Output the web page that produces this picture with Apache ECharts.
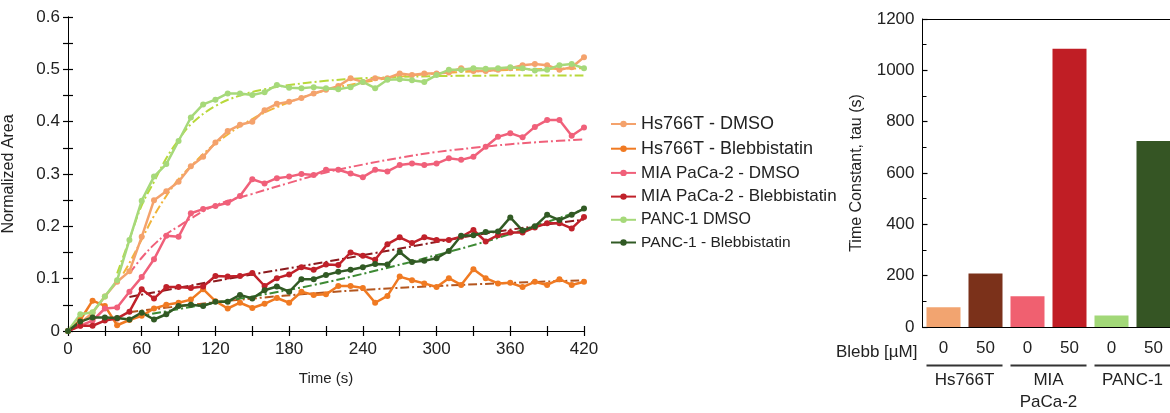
<!DOCTYPE html>
<html><head><meta charset="utf-8">
<script src="https://cdn.jsdelivr.net/npm/echarts@6/dist/echarts.min.js"></script>
<style>html,body{margin:0;padding:0;overflow:hidden;background:#fff}#c{width:1180px;height:413px}</style>
</head><body><div id="c"></div>
<script>
// ---------- DATA ----------
const times = [0,10,20,30,40,50,60,70,80,90,100,110,120,130,140,150,160,170,180,190,200,210,220,230,240,250,260,270,280,290,300,310,320,330,340,350,360,370,380,390,400,410,420];
const hsDmso = [0,0.015,0.035,0.066,0.094,0.114,0.18,0.25,0.267,0.285,0.315,0.333,0.36,0.382,0.394,0.4,0.422,0.434,0.438,0.445,0.454,0.461,0.468,0.483,0.476,0.483,0.483,0.492,0.489,0.492,0.492,0.494,0.502,0.497,0.497,0.499,0.502,0.508,0.51,0.508,0.499,0.504,0.523];
const hsBleb = [0,0.021,0.058,0.048,0.011,0.021,0.029,0.043,0.05,0.054,0.06,0.08,0.057,0.043,0.054,0.044,0.052,0.063,0.054,0.075,0.069,0.07,0.086,0.086,0.082,0.054,0.067,0.104,0.097,0.091,0.084,0.101,0.088,0.118,0.101,0.091,0.092,0.084,0.094,0.088,0.099,0.088,0.094];
const miaDmso = [0,0.01,0.02,0.043,0.045,0.075,0.103,0.137,0.182,0.18,0.225,0.233,0.239,0.245,0.258,0.29,0.282,0.292,0.295,0.3,0.298,0.308,0.308,0.301,0.294,0.308,0.305,0.317,0.32,0.317,0.32,0.33,0.327,0.333,0.352,0.371,0.378,0.37,0.39,0.403,0.403,0.373,0.389];
const miaBleb = [0,0.01,0.01,0.02,0.024,0.037,0.08,0.062,0.084,0.084,0.082,0.085,0.105,0.104,0.105,0.111,0.086,0.101,0.108,0.122,0.117,0.127,0.126,0.15,0.144,0.136,0.166,0.179,0.168,0.179,0.174,0.174,0.18,0.193,0.171,0.183,0.188,0.188,0.198,0.206,0.206,0.196,0.218];
const pancDmso = [0,0.032,0.036,0.066,0.097,0.174,0.249,0.295,0.319,0.363,0.408,0.433,0.442,0.454,0.454,0.451,0.456,0.47,0.465,0.464,0.466,0.464,0.462,0.466,0.476,0.464,0.48,0.481,0.479,0.476,0.489,0.499,0.499,0.502,0.501,0.502,0.504,0.502,0.498,0.499,0.508,0.51,0.502];
const pancBleb = [0,0.018,0.026,0.026,0.025,0.022,0.035,0.022,0.032,0.048,0.05,0.048,0.056,0.056,0.069,0.062,0.078,0.085,0.075,0.099,0.099,0.107,0.113,0.117,0.122,0.128,0.127,0.151,0.132,0.134,0.139,0.153,0.182,0.183,0.189,0.19,0.217,0.192,0.2,0.222,0.212,0.222,0.234];

const fitHsDmso = [[45,0.11],[50,0.13],[60,0.175],[70,0.22],[80,0.258],[90,0.29],[100,0.315],[120,0.358],[150,0.405],[180,0.437],[210,0.46],[240,0.475],[270,0.486],[300,0.492],[360,0.499],[420,0.502]];
const fitHsBleb = [[50,0.036],[100,0.05],[150,0.062],[200,0.072],[250,0.08],[300,0.086],[350,0.091],[420,0.097]];
const fitMiaDmso = [[50,0.11],[60,0.14],[70,0.165],[80,0.185],[90,0.2],[100,0.215],[120,0.24],[150,0.262],[180,0.283],[210,0.303],[240,0.318],[270,0.331],[300,0.342],[330,0.35],[360,0.357],[390,0.362],[420,0.366]];
const fitMiaBleb = [[50,0.065],[100,0.087],[150,0.108],[200,0.128],[250,0.149],[300,0.17],[350,0.19],[420,0.213]];
const fitPancDmso = [[40,0.11],[50,0.175],[60,0.24],[70,0.285],[80,0.33],[90,0.365],[100,0.395],[120,0.43],[140,0.45],[160,0.462],[180,0.47],[210,0.478],[240,0.483],[300,0.487],[360,0.488],[420,0.488]];
const fitPancBleb = [[55,0.027],[100,0.046],[150,0.066],[200,0.088],[250,0.115],[300,0.145],[350,0.178],[420,0.232]];

const seriesNames = ['Hs766T - DMSO','Hs766T - Blebbistatin','MIA PaCa-2 - DMSO','MIA PaCa-2 - Blebbistatin','PANC-1 DMSO','PANC-1 - Blebbistatin'];

const barCategories = ['0','50','0','50','0','50'];
const groupLabels = ['Hs766T','MIA\nPaCa-2','PANC-1'];
const tauValues = [77,208,120,1084,45,725];

// ---------- STYLES ----------
const dataColors = ['#f4a26c','#f07a22','#f0607a','#c0212a','#a6d97a','#315a24'];
const fitColors = ['#f0b43a','#b4561e','#f0607a','#8c1a1e','#b8d83a','#3d8a34'];
const legendSizes = [18,18,17,17,16,15.5];
const barColors = ['#f2a470','#7b311a','#f06070','#c01e25','#a2d878','#355524'];

const dataArrays = [hsDmso,hsBleb,miaDmso,miaBleb,pancDmso,pancBleb];
const fitArrays = [fitHsDmso,fitHsBleb,fitMiaDmso,fitMiaBleb,fitPancDmso,fitPancBleb];

const txt = '#222';
const font = 'Liberation Sans, Arial, sans-serif';
const axisLineStyle = {lineStyle:{color:'#000',width:1}};
const tickStyle = {show:true, inside:true, length:5, lineStyle:{color:'#000', width:1.2}};

const series = [];
fitArrays.forEach((f,i)=>{
  series.push({type:'line', name:'fit'+i, xAxisIndex:0, yAxisIndex:0, data:f, smooth:0.4, symbol:'none',
    lineStyle:{color:fitColors[i], width:2, type:[9,3,2,3]}, z:3, silent:true});
});
dataArrays.forEach((arr,i)=>{
  series.push({type:'line', name:seriesNames[i], xAxisIndex:0, yAxisIndex:0,
    data:times.map((t,j)=>[t,arr[j]]), symbol:'circle', symbolSize:6,
    itemStyle:{color:dataColors[i]}, lineStyle:{color:dataColors[i], width:2.5}, z:4});
});
series.push({type:'bar', xAxisIndex:2, yAxisIndex:2, barWidth:34,
  data:tauValues.map((v,i)=>({value:v,itemStyle:{color:barColors[i]}}))});

const chart = echarts.init(document.getElementById('c'), null, {renderer:'canvas'});
const option = {
  animation:false,
  textStyle:{fontFamily:font},
  grid:[
    {left:67, top:17, width:517, height:314},
    {left:922.5, top:19, width:252, height:311}
  ],
  legend:{
    orient:'vertical', left:605, top:110, itemWidth:25, itemHeight:8, itemGap:6.7,
    textStyle:{color:txt, fontFamily:font, lineHeight:16},
    data:seriesNames.map((n,i)=>({name:n, textStyle:{fontSize:legendSizes[i]}}))
  },
  xAxis:[
    {gridIndex:0, type:'value', min:0, max:420, interval:30, position:'bottom',
     axisLine:axisLineStyle, axisTick:tickStyle,
     axisLabel:{color:txt, fontSize:17, margin:10, formatter:v=> v%60===0 ? String(v) : ''},
     splitLine:{show:false}, name:'Time (s)', nameLocation:'middle', nameGap:40,
     nameTextStyle:{color:txt, fontSize:15}},
    {gridIndex:0, type:'value', min:0, max:420, interval:30, position:'top',
     axisLine:axisLineStyle, axisTick:tickStyle,
     axisLabel:{show:false}, splitLine:{show:false}},
    {gridIndex:1, type:'category', data:barCategories, position:'bottom',
     axisLine:axisLineStyle, axisTick:{show:false},
     axisLabel:{color:txt, fontSize:17, margin:13}},
    {gridIndex:1, type:'category', data:groupLabels, position:'bottom', offset:34,
     axisLine:{show:false}, axisTick:{show:false},
     axisLabel:{color:txt, fontSize:17, margin:8, lineHeight:22}},
    {gridIndex:1, type:'category', data:barCategories, position:'top',
     axisLine:axisLineStyle, axisTick:{show:false}, axisLabel:{show:false}}
  ],
  yAxis:[
    {gridIndex:0, type:'value', min:0, max:0.6, interval:0.05, position:'left',
     axisLine:{show:true, lineStyle:{color:'#000'}}, axisTick:tickStyle,
     axisLabel:{color:txt, fontSize:17, margin:8, formatter:v=>{const r=Math.round(v*100); if(r%10!==0) return ''; return r===0?'0':(r/100).toFixed(1);}},
     splitLine:{show:false}, name:'Normalized Area', nameLocation:'middle', nameGap:51,
     nameTextStyle:{color:txt, fontSize:16}},
    {gridIndex:0, type:'value', min:0, max:0.6, interval:0.05, position:'right',
     axisLine:{show:true, lineStyle:{color:'#000'}}, axisTick:tickStyle,
     axisLabel:{show:false}, splitLine:{show:false}},
    {gridIndex:1, type:'value', min:0, max:1200, interval:200, position:'left',
     axisLine:{show:true, lineStyle:{color:'#000'}}, axisTick:tickStyle,
     minorTick:{show:true, splitNumber:2, length:4, lineStyle:{color:'#000'}},
     axisLabel:{color:txt, fontSize:17, margin:8, formatter:v=>String(v)}, splitLine:{show:false},
     name:'Time Constant, tau (s)', nameLocation:'middle', nameGap:58,
     nameTextStyle:{color:txt, fontSize:16}}
  ],
  series:series
};
chart.setOption(option);

// annotations for the grouped category axis
const gfx = [];
for (let g=0; g<3; g++){
  const x1 = chart.convertToPixel({xAxisIndex:2}, 2*g) - 17;
  const x2 = chart.convertToPixel({xAxisIndex:2}, 2*g+1) + 17;
  gfx.push({type:'line', shape:{x1:x1, y1:365.5, x2:x2, y2:365.5}, style:{stroke:'#333', lineWidth:2}});
}
const x0 = chart.convertToPixel({xAxisIndex:2}, 0) - 17;
gfx.push({type:'text', x:x0-9, y:352, style:{text:'Blebb [µM]', fill:txt, font:'17px '+font, textAlign:'right', textVerticalAlign:'middle'}});
chart.setOption({graphic:gfx});
</script></body></html>
